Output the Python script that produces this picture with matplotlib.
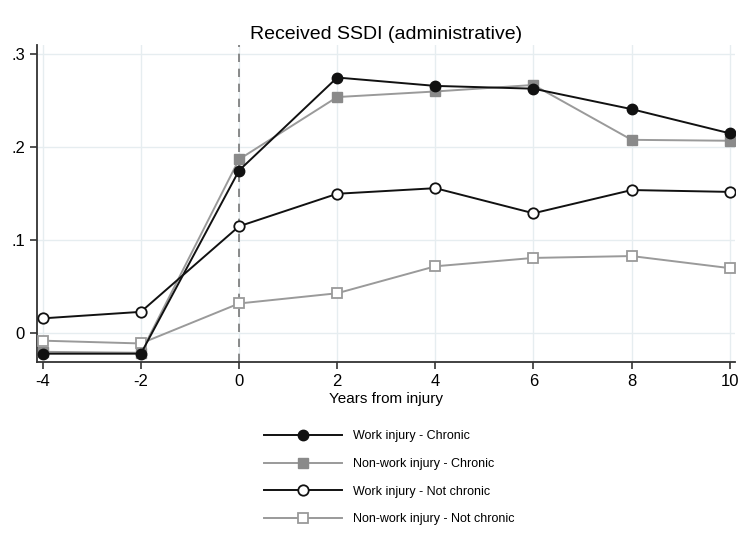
import matplotlib
matplotlib.use("Agg")
import matplotlib.pyplot as plt

plt.rcParams.update({
    "font.family": ["Liberation Sans", "DejaVu Sans"],
    "axes.spines.top": False, "axes.spines.right": False,
})

years = [-4, -2, 0, 2, 4, 6, 8, 10]
work_chronic = [-0.022, -0.022, 0.175, 0.275, 0.266, 0.263, 0.241, 0.215]
nonwork_chronic = [-0.020, -0.021, 0.187, 0.254, 0.260, 0.267, 0.208, 0.207]
work_not_chronic = [0.016, 0.023, 0.115, 0.150, 0.156, 0.129, 0.154, 0.152]
nonwork_not_chronic = [-0.008, -0.011, 0.032, 0.043, 0.072, 0.081, 0.083, 0.070]

C_BLACK = "#111111"
C_GRAY = "#8a8a8a"
C_LGRAY = "#9a9a9a"

fig = plt.figure(figsize=(7.52, 5.42), dpi=100)
ax = fig.add_axes([0.049, 0.332, 0.928, 0.585])

ax.grid(True, color="#e6edf0", lw=1.0)
ax.set_axisbelow(True)
ax.axvline(0, color="#777777", lw=1.2, ls=(0, (5, 4)), zorder=1)

ms = 7.5
ax.plot(years, work_chronic, color=C_BLACK, lw=1.4, marker="o", ms=ms,
        mfc=C_BLACK, mec=C_BLACK, label="Work injury - Chronic", zorder=5)
ax.plot(years, nonwork_chronic, color=C_LGRAY, lw=1.4, marker="s", ms=ms,
        mfc=C_GRAY, mec=C_GRAY, label="Non-work injury - Chronic", zorder=4)
ax.plot(years, work_not_chronic, color=C_BLACK, lw=1.4, marker="o", ms=ms,
        mfc="white", mec=C_BLACK, mew=1.3, label="Work injury - Not chronic", zorder=5)
ax.plot(years, nonwork_not_chronic, color=C_LGRAY, lw=1.4, marker="s", ms=ms,
        mfc="white", mec=C_LGRAY, mew=1.3, label="Non-work injury - Not chronic", zorder=4)

ax.set_xlim(-4.12, 10.1)
ax.set_ylim(-0.031, 0.31)
ax.set_xticks(years)
ax.set_xticklabels([str(y) for y in years])
ax.set_yticks([0, 0.1, 0.2, 0.3])
ax.set_yticklabels(["0", ".1", ".2", ".3"])
ax.tick_params(labelsize=12, length=5, width=1.2, color="#333333")
for s in ["left", "bottom"]:
    ax.spines[s].set_linewidth(1.3)
    ax.spines[s].set_color("#333333")

ax.set_title("Received SSDI (administrative)", fontsize=14, pad=4)
ax.set_xlabel("Years from injury", fontsize=11, labelpad=2)

ax.legend(loc="upper center", bbox_to_anchor=(0.505, -0.18), frameon=False,
          fontsize=9, handlelength=6.2, labelspacing=1.25, handletextpad=0.9)

fig.savefig("out.png", dpi=100)
